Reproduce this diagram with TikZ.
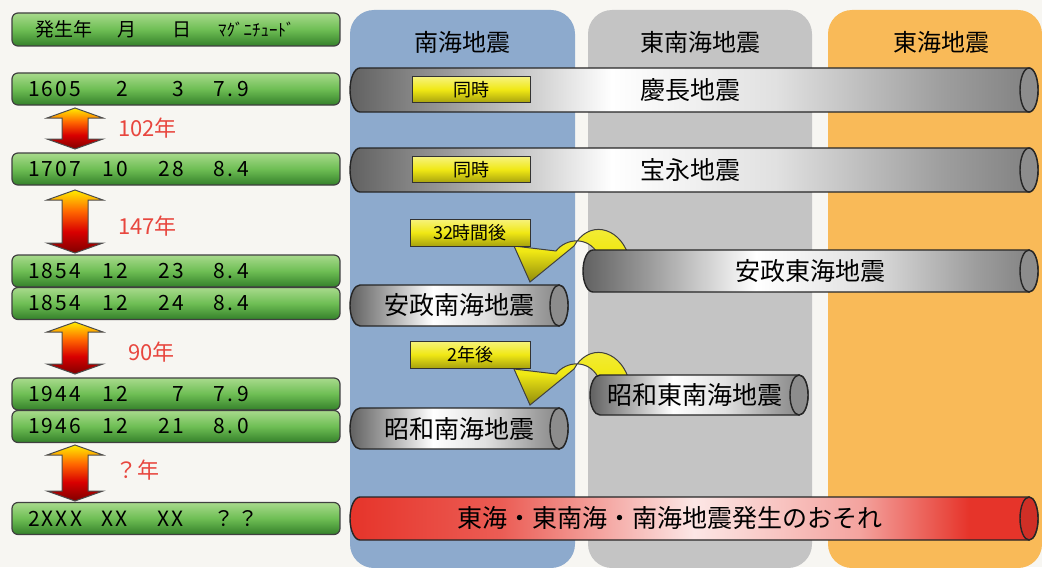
\documentclass[tikz,border=0pt]{standalone}
\usepackage{fontspec}
\setmainfont{Noto Sans CJK JP}

\definecolor{paper}{RGB}{247,246,242}
\definecolor{nankai}{RGB}{141,170,205}
\definecolor{tonankai}{RGB}{196,196,196}
\definecolor{tokai}{RGB}{249,186,88}
\definecolor{barlight}{RGB}{168,218,140}
\definecolor{barmid}{RGB}{110,190,84}
\definecolor{bardark}{RGB}{52,128,42}
\definecolor{quakered}{RGB}{230,52,42}
\definecolor{gaptext}{RGB}{232,70,62}
\definecolor{tagyellow}{RGB}{240,232,20}

\pgfdeclarehorizontalshading{cylgray}{100bp}{color(0bp)=(black!62); color(25bp)=(black!62); color(32bp)=(black!40); color(44bp)=(white); color(56bp)=(black!12); color(68bp)=(black!38); color(75bp)=(black!50); color(100bp)=(black!50)}
\pgfdeclarehorizontalshading{cylred}{100bp}{color(0bp)=(quakered); color(25bp)=(quakered); color(36bp)=(quakered!80!white); color(50bp)=(quakered!12!white); color(62bp)=(quakered!45!white); color(70bp)=(quakered); color(100bp)=(quakered)}
\pgfdeclareverticalshading{gapshade}{100bp}{color(0bp)=(red!50!black); color(25bp)=(red!50!black); color(42bp)=(red!85!black); color(58bp)=(orange!80!red); color(75bp)=(yellow!85!orange); color(100bp)=(yellow!85!orange)}

\newcommand\fs[1]{\fontsize{#1}{#1}\selectfont}
\newcommand\datefields[4]{\makebox[36pt][l]{#1}\makebox[14pt][r]{#2}\makebox[28pt][r]{#3}\hspace{15pt}#4}
\newcommand\gaparrow[2]{%
  \draw[gaparrow] (75,#1) -- (103,#1+10) -- (88,#1+10) -- (88,#2-10) -- (103,#2-10)
    -- (75,#2) -- (47,#2-10) -- (62,#2-10) -- (62,#1+10) -- (47,#1+10) -- cycle;}
% name, left, top, right, bottom, shading, end colour, text, text shift
\newcommand\quakebar[9]{%
  \draw[cylbody, shading=#6] (#2+10,#3) -- (#4-9,#3)
    arc[start angle=90, end angle=-90, x radius=4.5pt, y radius={(#5-#3)/4*1pt}]
    -- (#2+10,#5)
    arc[start angle=270, end angle=90, x radius=5pt, y radius={(#5-#3)/4*1pt}] -- cycle;
  \draw[cylbody, fill=#7] (#4-9,{(#3+#5)/2}) ellipse[x radius=4.5pt, y radius={(#5-#3)/4*1pt}];
  \node[cyltext] (#1) at ({(#2+#4)/2+#9},{(#3+#5)/2}) {#8};}

\tikzset{
  datebar/.style={rectangle, rounded corners=3pt, draw=black!75, line width=0.6pt,
    top color=barlight, bottom color=bardark, middle color=barmid,
    minimum height=16pt, inner ysep=0pt, inner xsep=8pt, text width=148pt, align=left,
    font=\fs{10.5}\addfontfeature{LetterSpace=10}},
  gaparrow/.style={draw=black!70, line width=0.5pt, shading=gapshade},
  gaplabel/.style={anchor=west, text=gaptext, font=\fs{11}},
  colhead/.style={font=\fs{12}},
  cylbody/.style={draw=black!85, line width=0.7pt},
  cyltext/.style={inner sep=0pt, font=\fs{12.5}},
  tagbox/.style={rectangle, draw=black!80, line width=0.5pt, top color=tagyellow!55!white,
    bottom color=tagyellow!70!black, middle color=tagyellow, inner sep=0pt,
    minimum width=59pt, minimum height=13pt, font=\fs{9}},
  turnfill/.style={draw=black!75, line width=0.5pt, top color=tagyellow!80!white,
    bottom color=tagyellow!60!black, middle color=tagyellow},
  turnarrow/.pic={\draw[turnfill] (628,254) .. controls (618,226) and (588,220) .. (574,246)
    -- (530,282) -- (514,246) -- (556,251) .. controls (566,238) and (588,236) .. (598,254) -- cycle;}
}

\begin{document}
\begin{tikzpicture}[x=0.5pt,y=-0.5pt]
\useasboundingbox (0,0) rectangle (1042,567);
\fill[paper] (0,0) rectangle (1042,567);

% columns
\fill[nankai, rounded corners=12pt] (350,10) rectangle (575,568);
\fill[tonankai, rounded corners=12pt] (588,10) rectangle (812,568);
\fill[tokai, rounded corners=12pt] (828,10) rectangle (1042,568);
\node[colhead] (hNankai) at (462,42) {南海地震};
\node[colhead] (hTonankai) at (700,42) {東南海地震};
\node[colhead] (hTokai) at (941,42) {東海地震};

% dates
\node[datebar, minimum height=16.5pt, inner xsep=11.5pt, text width=141pt, font=\fs{9.5}] (head) at (176,29.5)
  {\makebox[41.5pt][l]{発生年}\makebox[27.5pt][l]{月}\makebox[22.5pt][l]{日}{\fs{8.5}ﾏｸﾞﾆﾁｭｰﾄﾞ}};
\node[datebar] (d1605) at (176,89) {\datefields{1605}{2}{3}{7.\,9}};
\node[datebar] (d1707) at (176,169) {\datefields{1707}{10}{28}{8.\,4}};
\node[datebar] (d1854a) at (176,271) {\datefields{1854}{12}{23}{8.\,4}};
\node[datebar] (d1854b) at (176,303.5) {\datefields{1854}{12}{24}{8.\,4}};
\node[datebar] (d1944) at (176,394) {\datefields{1944}{12}{7}{7.\,9}};
\node[datebar] (d1946) at (176,426.5) {\datefields{1946}{12}{21}{8.\,0}};
\node[datebar] (d2xxx) at (176,518.5) {\datefields{2XXX}{XX}{XX}{？？}};

% intervals
\gaparrow{108}{149}
\gaparrow{190}{253}
\gaparrow{322}{374}
\gaparrow{445}{501}
\node[gaplabel] (gap1) at (111,128) {102年};
\node[gaplabel] (gap2) at (111,226) {147年};
\node[gaplabel] (gap3) at (121,352) {90年};
\node[gaplabel] (gap4) at (108,470) {？年};

% delayed quakes
\pic at (0,0) {turnarrow};
\pic at (0,123) {turnarrow};

% quakes
\quakebar{keicho}{350}{68}{1038}{112}{cylgray}{black!45}{慶長地震}{-4}
\quakebar{hoei}{350}{148}{1038}{192}{cylgray}{black!45}{宝永地震}{-4}
\quakebar{anseiTokai}{583}{250}{1038}{292}{cylgray}{black!45}{安政東海地震}{0}
\quakebar{anseiNankai}{350}{285}{568}{326}{cylgray}{black!45}{安政南海地震}{0}
\quakebar{showaTonankai}{590}{375}{808}{415}{cylgray}{black!45}{昭和東南海地震}{-4}
\quakebar{showaNankai}{350}{408}{568}{449}{cylgray}{black!45}{昭和南海地震}{0}
\quakebar{future}{350}{497}{1038}{540}{cylred}{quakered!90!black}{東海・東南海・南海地震発生のおそれ}{-24}

\node[tagbox] (doji1) at (471.5,89.5) {同時};
\node[tagbox] (doji2) at (471.5,169.5) {同時};
\node[tagbox, minimum width=60pt, minimum height=13.5pt] (after32h) at (470,232.5) {32時間後};
\node[tagbox, minimum width=60pt, minimum height=13.5pt] (after2y) at (470,354.5) {2年後};
\end{tikzpicture}
\end{document}
